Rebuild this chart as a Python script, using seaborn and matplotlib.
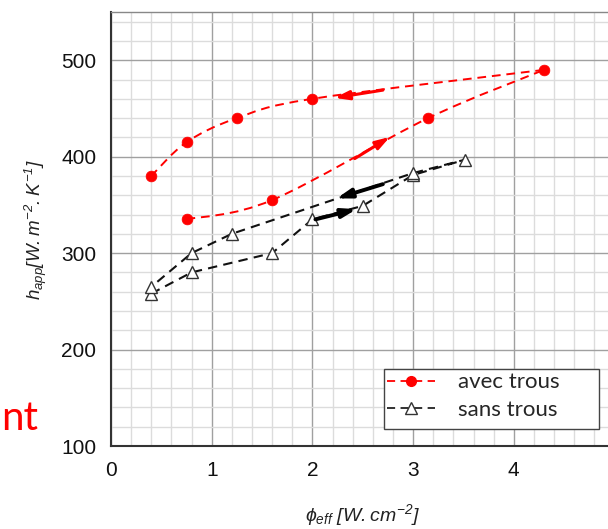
import matplotlib
matplotlib.use("Agg")
import matplotlib.pyplot as plt
import seaborn as sns
import pandas as pd
import numpy as np
from matplotlib.ticker import MultipleLocator
from matplotlib.lines import Line2D
from matplotlib.path import Path
from matplotlib.patches import PathPatch, Rectangle

# ---- data ----
avec_x = [0.75, 1.6, 3.15, 4.3, 2.0, 1.25, 0.75, 0.4]
avec_y = [335, 355, 440, 490, 460, 440, 415, 380]
avec_branches = [(0, 3), (3, 7)]   # heating branch, cooling branch (index ranges)
sans_x = [0.4, 0.8, 1.6, 2.0, 2.5, 3.0, 3.52, 3.0, 1.2, 0.8, 0.4]
sans_y = [258, 280, 300, 335, 349, 381, 397, 383, 320, 300, 265]

# arrows: (x_tail, y_tail, x_head, y_head)
red_arrows = [(2.70, 469, 2.22, 461), (2.42, 398, 2.77, 420.5)]
black_arrows = [(2.70, 371.5, 2.24, 356.7), (2.03, 335, 2.44, 345.6)]

x_ticks = [0, 1, 2, 3, 4]
y_ticks = [100, 200, 300, 400, 500]
legend_labels = ["avec trous", "sans trous"]

sns.set_theme(style="white")
plt.rcParams['font.family'] = ['Liberation Sans', 'DejaVu Sans']
plt.rcParams['mathtext.fontset'] = 'custom'
plt.rcParams['mathtext.it'] = 'Liberation Sans:italic'
plt.rcParams['mathtext.rm'] = 'Liberation Sans:italic'
plt.rcParams['mathtext.sf'] = 'Liberation Sans:italic'

fig = plt.figure(figsize=(6.08, 5.29), dpi=100)
AX_L, AX_B, AX_W, AX_H = 111, 446, 503.5, 434   # pixel geometry of the axes
ax = fig.add_axes([AX_L / 608, (529 - AX_B) / 529, AX_W / 608, AX_H / 529])

DASH = (0, (4.5, 3))


def smooth_path(xs, ys):
    """Catmull-Rom curve through the given points, as cubic Bezier path."""
    P = np.column_stack([xs, ys]).astype(float)
    n = len(P)
    verts = [P[0]]
    codes = [Path.MOVETO]
    for i in range(n - 1):
        p0 = P[i - 1] if i > 0 else P[i]
        p1, p2 = P[i], P[i + 1]
        p3 = P[i + 2] if i + 2 < n else P[i + 1]
        c1 = p1 + (p2 - p0) / 6.0
        c2 = p2 - (p3 - p1) / 6.0
        verts += [c1, c2, p2]
        codes += [Path.CURVE4] * 3
    return Path(verts, codes)


for (a, b) in avec_branches:
    patch = PathPatch(smooth_path(avec_x[a:b + 1], avec_y[a:b + 1]),
                      facecolor="none", edgecolor="red", lw=1.4,
                      linestyle=DASH, zorder=2.5)
    ax.add_patch(patch)

df_a = pd.DataFrame({"x": avec_x, "y": avec_y})
df_s = pd.DataFrame({"x": sans_x, "y": sans_y})

sns.scatterplot(data=df_a, x="x", y="y", ax=ax, color="red", s=60,
                edgecolor="red", linewidth=0.5, marker="o", zorder=3)
sns.lineplot(data=df_s, x="x", y="y", sort=False, estimator=None, ax=ax,
             color="#111111", lw=1.5, linestyle=DASH, marker="^",
             markersize=9, markeredgecolor="#333333", markerfacecolor="white",
             markeredgewidth=1.0, zorder=3)

for (x0, y0, x1, y1) in red_arrows:
    ax.annotate("", xy=(x1, y1), xytext=(x0, y0),
                arrowprops=dict(arrowstyle="-|>,head_length=0.7,head_width=0.22",
                                color="red", lw=2.2, shrinkA=0, shrinkB=0), zorder=4)
for (x0, y0, x1, y1) in black_arrows:
    ax.annotate("", xy=(x1, y1), xytext=(x0, y0),
                arrowprops=dict(arrowstyle="-|>,head_length=0.7,head_width=0.22",
                                color="black", lw=2.8, shrinkA=0, shrinkB=0), zorder=4)

ax.set_xlim(0, 5)
ax.set_ylim(100, 550)
ax.set_xticks(x_ticks)
ax.set_yticks(y_ticks)
ax.xaxis.set_minor_locator(MultipleLocator(0.2))
ax.yaxis.set_minor_locator(MultipleLocator(20))
ax.grid(which="major", color="#a0a0a0", lw=1.0)
ax.grid(which="minor", color="#dcdcdc", lw=1.0)
ax.set_axisbelow(True)
ax.tick_params(which="major", direction="inout", length=9, width=1.2,
               color="#333333", labelsize=15, labelcolor="#111111", pad=6)
ax.tick_params(which="minor", length=0)
for s in ["left", "bottom"]:
    ax.spines[s].set_color("#333333")
    ax.spines[s].set_linewidth(1.5)
ax.spines["top"].set_color("#888888")
ax.spines["top"].set_linewidth(1.0)
ax.spines["right"].set_visible(False)

ax.set_xlabel(r"$\phi_{eff}\ [W.cm^{-2}]$", fontsize=14, labelpad=16, color="#222222")
ax.set_ylabel(r"$h_{app}[W.m^{-2}.K^{-1}]$", fontsize=13.5, labelpad=9, color="#222222")

# legend frame (wider than its content, as in the reference)
LEG_L, LEG_T, LEG_R, LEG_B = 384, 369, 599, 429
ax.add_patch(Rectangle(((LEG_L - AX_L) / AX_W, (AX_B - LEG_B) / AX_H),
                       (LEG_R - LEG_L) / AX_W, (LEG_B - LEG_T) / AX_H,
                       transform=ax.transAxes, facecolor="white",
                       edgecolor="#444444", lw=1.0, zorder=4.8))

handles = [
    Line2D([], [], color="red", lw=1.3, linestyle=DASH, marker="o",
           markersize=7, markerfacecolor="red", markeredgecolor="red"),
    Line2D([], [], color="#222222", lw=1.3, linestyle=DASH, marker="^",
           markersize=8, markerfacecolor="white", markeredgecolor="#333333"),
]
leg = ax.legend(handles, legend_labels, loc="upper left",
                bbox_to_anchor=((LEG_L - AX_L) / AX_W, (AX_B - LEG_T) / AX_H),
                borderaxespad=0, handlelength=2.15, handletextpad=1.05,
                borderpad=0.15, labelspacing=0.33, frameon=False,
                prop={"family": "Lato", "size": 16})
leg.set_zorder(5)

fig.text(1 / 608, (529 - 430) / 529, "nt", color="red", fontsize=29,
         family="Lato", ha="left", va="baseline")

fig.savefig("out.png", dpi=100)
